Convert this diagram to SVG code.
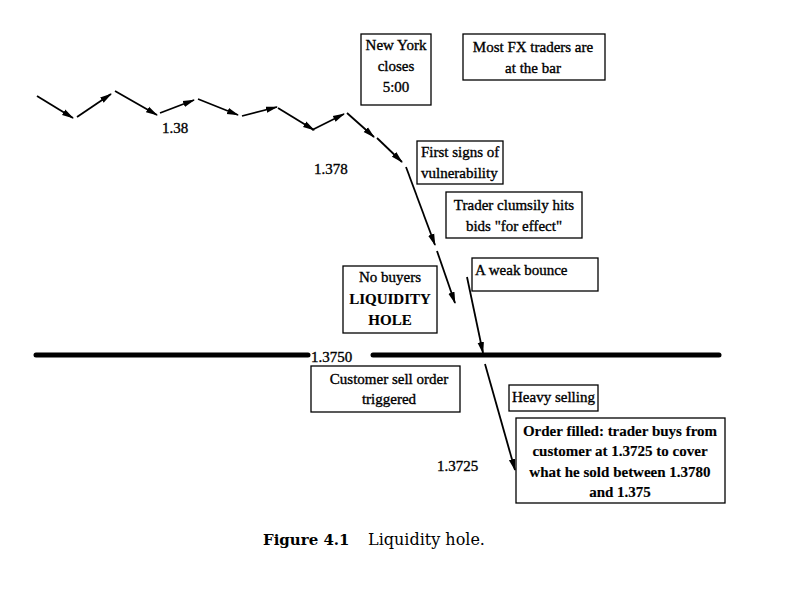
<svg xmlns="http://www.w3.org/2000/svg" width="798" height="593" viewBox="0 0 798 593">
<style>
  .bg { fill: #ffffff; }
  .box rect { fill: #ffffff; stroke: #000000; stroke-width: 1.3; }
  .t { font-family: "Liberation Serif", "Times New Roman", serif; font-size: 15px; fill: #000000; stroke: #000000; stroke-width: 0.35px; }
  .b { font-weight: bold; stroke-width: 0.15px; }
  .mid { text-anchor: middle; }
  .seg { stroke: #000000; stroke-width: 1.8; fill: none; marker-end: url(#ah); }
  .level { stroke: #000000; stroke-width: 5; stroke-linecap: round; }
  .cap { font-family: "DejaVu Serif", "Liberation Serif", serif; font-size: 16px; fill: #000000; }
</style>
<defs>
  <marker id="ah" viewBox="0 0 12 8" refX="11" refY="4" markerWidth="12" markerHeight="8" markerUnits="userSpaceOnUse" orient="auto">
    <path d="M0,0.8 L12,4 L0,7.2 Z" fill="#000000"/>
  </marker>
</defs>
<rect class="bg" x="0" y="0" width="798" height="593"/>

<g id="connectors">
  <line class="seg" x1="37" y1="96" x2="73" y2="118"/>
  <line class="seg" x1="77" y1="117" x2="111" y2="94"/>
  <line class="seg" x1="115" y1="91" x2="157" y2="115"/>
  <line class="seg" x1="160" y1="113" x2="194" y2="100"/>
  <line class="seg" x1="198" y1="99" x2="238" y2="115"/>
  <line class="seg" x1="242" y1="116" x2="277" y2="107"/>
  <line class="seg" x1="278" y1="108" x2="314" y2="130"/>
  <line class="seg" x1="312" y1="130" x2="344" y2="114"/>
  <line class="seg" x1="347" y1="113" x2="374" y2="137"/>
  <line class="seg" x1="377" y1="138" x2="402" y2="162"/>
  <line class="seg" x1="406" y1="167" x2="435" y2="245"/>
  <line class="seg" x1="437" y1="251" x2="455" y2="303"/>
  <line class="seg" x1="467" y1="277" x2="483" y2="353"/>
  <line class="seg" x1="485" y1="364" x2="515" y2="470"/>
</g>

<g id="level-1.3750">
  <line class="level" x1="36" y1="355" x2="308" y2="355"/>
  <line class="level" x1="373" y1="355" x2="719" y2="355"/>
  <text class="t" x="311" y="362">1.3750</text>
</g>

<g id="label-1.38"><text class="t" x="162" y="133">1.38</text></g>
<g id="label-1.378"><text class="t" x="314" y="174">1.378</text></g>
<g id="label-1.3725"><text class="t" x="437" y="471">1.3725</text></g>

<g id="new-york" class="box">
  <rect x="361" y="34" width="70" height="71"/>
  <text class="t mid" x="396" y="50">New York</text>
  <text class="t mid" x="396" y="71">closes</text>
  <text class="t mid" x="396" y="92">5:00</text>
</g>

<g id="fx-traders" class="box">
  <rect x="463" y="34" width="142" height="46"/>
  <text class="t mid" x="533" y="52">Most FX traders are</text>
  <text class="t mid" x="533" y="73">at the bar</text>
</g>

<g id="first-signs" class="box">
  <rect x="417" y="141" width="86" height="43"/>
  <text class="t" x="421" y="157">First signs of</text>
  <text class="t" x="421" y="178">vulnerability</text>
</g>

<g id="trader-clumsily" class="box">
  <rect x="446" y="192" width="136" height="46"/>
  <text class="t mid" x="514" y="210">Trader clumsily hits</text>
  <text class="t mid" x="514" y="231">bids "for effect"</text>
</g>

<g id="weak-bounce" class="box">
  <rect x="472" y="258" width="126" height="33"/>
  <text class="t" x="475" y="275">A weak bounce</text>
</g>

<g id="liquidity-hole" class="box">
  <rect x="343" y="266" width="94" height="67"/>
  <text class="t mid" x="390" y="282">No buyers</text>
  <text class="t mid b" x="390" y="304">LIQUIDITY</text>
  <text class="t mid b" x="390" y="325">HOLE</text>
</g>

<g id="customer-sell" class="box">
  <rect x="311" y="366" width="149" height="46"/>
  <text class="t mid" x="389" y="384">Customer sell order</text>
  <text class="t mid" x="389" y="404">triggered</text>
</g>

<g id="heavy-selling" class="box">
  <rect x="509" y="385" width="89" height="26"/>
  <text class="t" x="512" y="402">Heavy selling</text>
</g>

<g id="order-filled" class="box">
  <rect x="516" y="418" width="209" height="85"/>
  <text class="t mid b" x="620" y="436">Order filled: trader buys from</text>
  <text class="t mid b" x="620" y="456">customer at 1.3725 to cover</text>
  <text class="t mid b" x="620" y="477">what he sold between 1.3780</text>
  <text class="t mid b" x="620" y="497">and 1.375</text>
</g>

<g id="caption">
  <text class="cap" x="263" y="545"><tspan font-weight="bold" font-size="15px">Figure 4.1</tspan><tspan x="368">Liquidity hole.</tspan></text>
</g>
</svg>
